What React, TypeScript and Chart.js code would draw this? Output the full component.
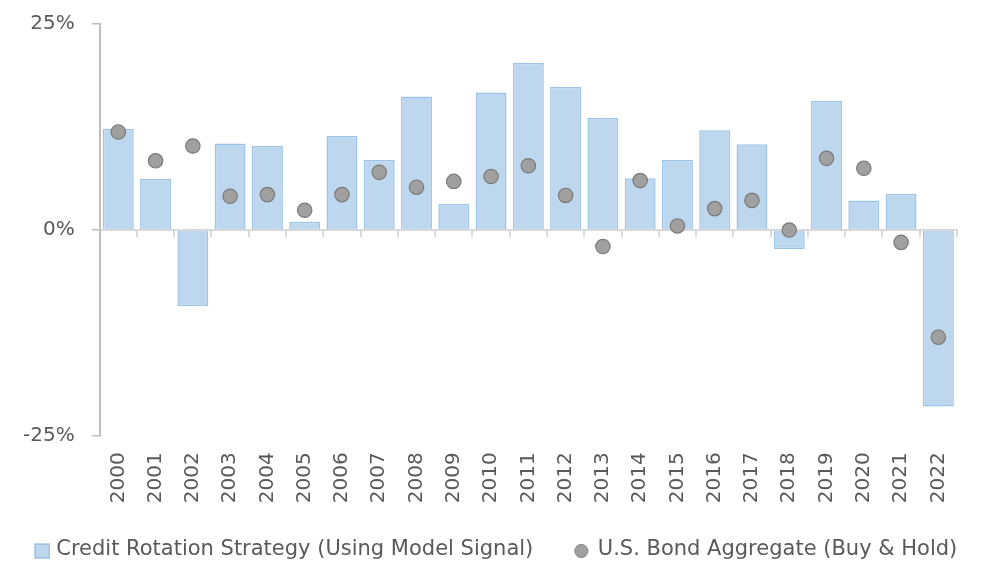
import React, { useEffect, useRef } from 'react';
import { Chart, registerables } from 'chart.js';

Chart.register(...registerables);

const years = ['2000', '2001', '2002', '2003', '2004', '2005', '2006', '2007', '2008', '2009', '2010', '2011', '2012', '2013', '2014', '2015', '2016', '2017', '2018', '2019', '2020', '2021', '2022'];
const strategyReturns = [12.3, 6.2, -9.2, 10.5, 10.2, 1.0, 11.4, 8.5, 16.2, 3.2, 16.7, 20.3, 17.4, 13.6, 6.3, 8.5, 12.1, 10.4, -2.3, 15.7, 3.6, 4.4, -21.4];
const bondReturns = [11.9, 8.4, 10.2, 4.1, 4.3, 2.4, 4.3, 7.0, 5.2, 5.9, 6.5, 7.8, 4.2, -2.0, 6.0, 0.5, 2.6, 3.6, 0.0, 8.7, 7.5, -1.5, -13.0];
const yTicks = [-25, 0, 25];
const seriesNames = ['Credit Rotation Strategy (Using Model Signal)', 'U.S. Bond Aggregate (Buy & Hold)'];

const FONT = 'DejaVu Sans';
const TEXT = '#595959';
const BAR_FILL = '#bdd7ee';
const BAR_EDGE = '#9dc3e6';
const DOT_FILL = '#a0a0a0';
const DOT_EDGE = '#7a7a7a';

function makeSquareMarker() {
  const c = document.createElement('canvas');
  c.width = 43;
  c.height = 18;
  const ctx = c.getContext('2d')!;
  ctx.fillStyle = BAR_FILL;
  ctx.fillRect(27, 2.5, 16, 15);
  ctx.strokeStyle = BAR_EDGE;
  ctx.lineWidth = 1.5;
  ctx.strokeRect(27.75, 3.25, 14.5, 13.5);
  return c;
}

function makeCircleMarker() {
  const c = document.createElement('canvas');
  c.width = 37;
  c.height = 18;
  const ctx = c.getContext('2d')!;
  ctx.beginPath();
  ctx.arc(29.5, 10, 6.5, 0, Math.PI * 2);
  ctx.fillStyle = DOT_FILL;
  ctx.fill();
  ctx.lineWidth = 1;
  ctx.strokeStyle = DOT_EDGE;
  ctx.stroke();
  return c;
}

export default function App() {
  const ref = useRef<HTMLCanvasElement | null>(null);

  useEffect(() => {
    if (!ref.current) return;
    const squareMarker = makeSquareMarker();
    const circleMarker = makeCircleMarker();
    const chart = new Chart(ref.current, {
      type: 'bar',
      data: {
        labels: years,
        datasets: [
          {
            type: 'bar',
            label: seriesNames[0],
            data: strategyReturns,
            backgroundColor: BAR_FILL,
            borderColor: BAR_EDGE,
            borderWidth: 1.5,
            barPercentage: 0.83,
            categoryPercentage: 1,
            xAxisID: 'x',
            yAxisID: 'y',
            order: 2,
          },
          {
            type: 'line',
            label: seriesNames[1],
            data: bondReturns,
            showLine: false,
            pointRadius: 7.2,
            pointHoverRadius: 7.2,
            pointBackgroundColor: DOT_FILL,
            pointBorderColor: DOT_EDGE,
            pointBorderWidth: 1.2,
            xAxisID: 'x',
            yAxisID: 'y',
            order: 1,
          } as any,
        ],
      },
      options: {
        animation: false,
        responsive: true,
        maintainAspectRatio: false,
        layout: { padding: { left: -15, right: 1, top: 24, bottom: -5.5 } },
        plugins: {
          tooltip: { enabled: false },
          legend: {
            position: 'bottom',
            labels: {
              usePointStyle: true,
              pointStyleWidth: 34,
              boxHeight: 14,
              padding: 20,
              color: TEXT,
              font: { family: FONT, size: 21 },
              generateLabels: () => [
                {
                  text: seriesNames[0],
                  pointStyle: squareMarker as any,
                  fillStyle: BAR_FILL,
                  strokeStyle: BAR_EDGE,
                  lineWidth: 0,
                  hidden: false,
                  datasetIndex: 0,
                  fontColor: TEXT,
                },
                {
                  text: seriesNames[1],
                  pointStyle: circleMarker as any,
                  fillStyle: DOT_FILL,
                  strokeStyle: DOT_EDGE,
                  lineWidth: 0,
                  hidden: false,
                  datasetIndex: 1,
                  fontColor: TEXT,
                },
              ],
            },
          },
        },
        scales: {
          x: {
            type: 'category',
            position: { y: 0 } as any,
            offset: true,
            grid: {
              offset: true,
              drawOnChartArea: false,
              drawTicks: true,
              tickLength: 6,
              color: '#d9d9d9',
              lineWidth: 2,
            },
            border: { display: true, color: '#d9d9d9', width: 2 },
            ticks: { display: false },
          },
          xLabels: {
            type: 'category',
            axis: 'x',
            position: 'bottom',
            offset: true,
            grid: { display: false, drawTicks: false },
            border: { display: false },
            ticks: {
              autoSkip: false,
              minRotation: 90,
              maxRotation: 90,
              padding: 16.25,
              color: TEXT,
              font: { family: FONT, size: 20 },
            },
          } as any,
          y: {
            position: 'left',
            min: yTicks[0],
            max: yTicks[yTicks.length - 1],
            afterBuildTicks: (scale: any) => {
              scale.ticks = yTicks.map((v) => ({ value: v }));
            },
            grid: {
              drawOnChartArea: false,
              drawTicks: true,
              tickLength: 8,
              color: '#bfbfbf',
              lineWidth: 1.5,
            },
            border: { display: true, color: '#bfbfbf', width: 2 },
            ticks: {
              padding: 17,
              color: TEXT,
              font: { family: FONT, size: 20, lineHeight: 0.7 },
              callback: (v: any) => v + '%',
            },
            title: { display: true, text: '', font: { size: 10 }, padding: { top: 4.5, bottom: 4.5 } },
          },
          yRight: {
            type: 'linear',
            axis: 'y',
            position: 'right',
            grid: { display: false, drawTicks: false },
            border: { display: false },
            ticks: { display: false },
            title: { display: true, text: '', font: { size: 10 }, padding: { top: 7.5, bottom: 7.5 } },
          } as any,
        },
      },
    });
    return () => chart.destroy();
  }, []);

  return (
    <div style={{ position: 'fixed', left: 0, top: 0, width: 985, height: 565, background: '#fff' }}>
      <canvas ref={ref} />
    </div>
  );
}
